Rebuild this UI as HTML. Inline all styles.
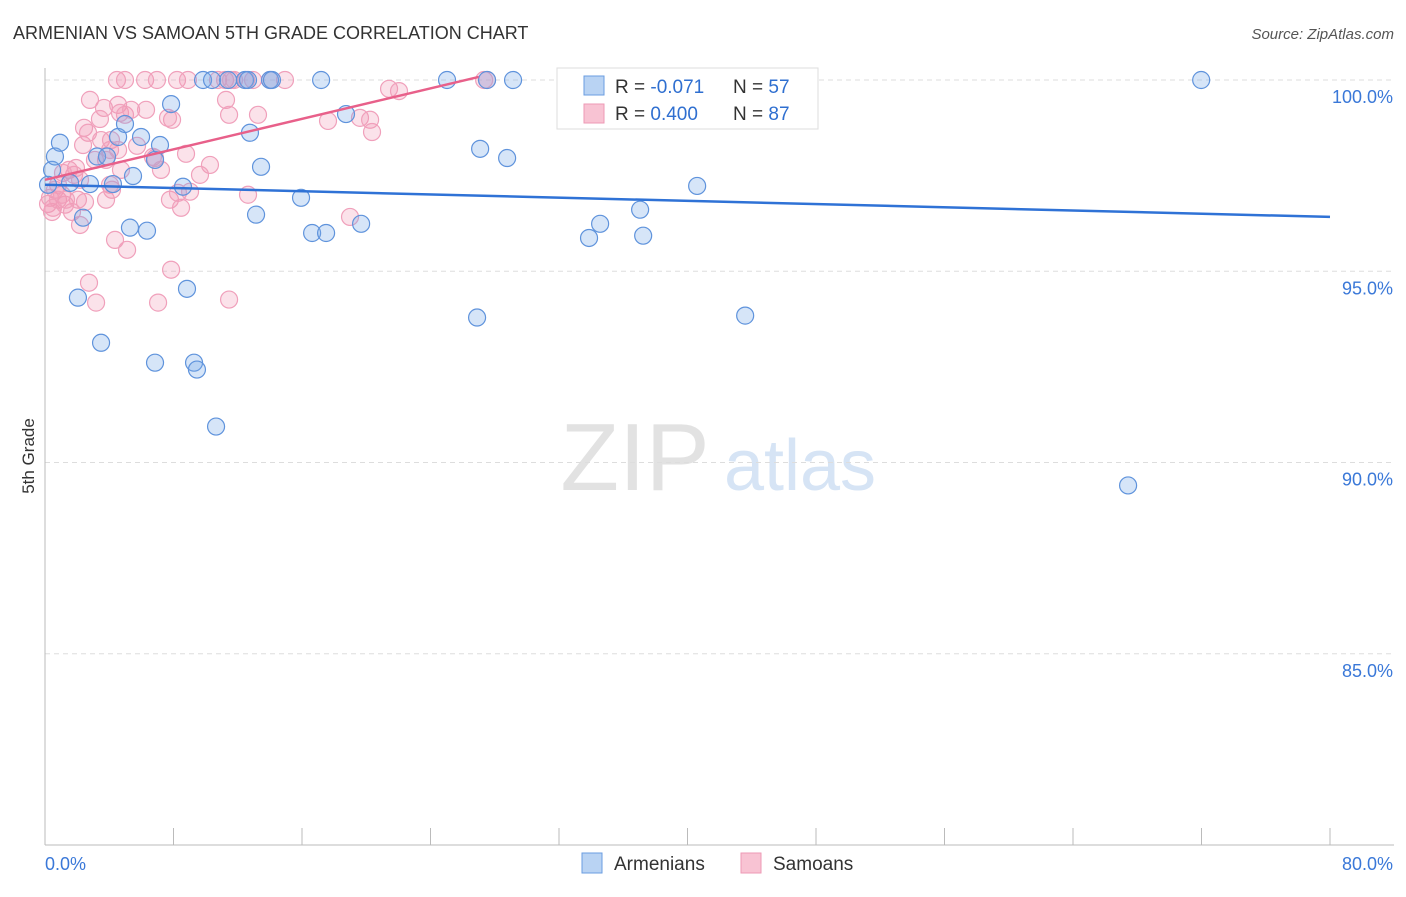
<!DOCTYPE html>
<html><head><meta charset="utf-8"><style>
body{margin:0;background:#fff;font-family:"Liberation Sans",sans-serif;}
svg text{font-family:"Liberation Sans",sans-serif;}
</style></head><body>
<svg id="chart" width="1406" height="892" viewBox="0 0 1406 892">
<text x="13" y="39" font-size="18" fill="#333">ARMENIAN VS SAMOAN 5TH GRADE CORRELATION CHART</text>
<text x="1394" y="39" font-size="15" fill="#555" text-anchor="end" font-style="italic">Source: ZipAtlas.com</text>
<text x="34" y="456" font-size="17" fill="#333" text-anchor="middle" transform="rotate(-90 34 456)">5th Grade</text>
<g>
<text x="635" y="490" font-size="96" fill="#e2e2e2" font-family="Liberation Serif" text-anchor="middle">ZIP</text>
<text x="800" y="490" font-size="72" fill="#d6e4f5" text-anchor="middle">atlas</text>
</g>
<g id="grid"></g><g id="axes"></g><g id="pts"></g><g id="lines"></g>
<g>
<rect x="557" y="68" width="261" height="61" fill="#fff" stroke="#ddd"/>
<rect x="584" y="76" width="20" height="19" fill="#b9d3f3" stroke="#6a9de0"/>
<rect x="584" y="104" width="20" height="19" fill="#f8c3d3" stroke="#ee9ab5"/>
<text x="615" y="93" font-size="19" fill="#333">R = <tspan fill="#2f6fd0">-0.071</tspan></text>
<text x="733" y="93" font-size="19" fill="#333">N = <tspan fill="#2f6fd0">57</tspan></text>
<text x="615" y="120" font-size="19" fill="#333">R = <tspan fill="#2f6fd0"> 0.400</tspan></text>
<text x="733" y="120" font-size="19" fill="#333">N = <tspan fill="#2f6fd0">87</tspan></text>
</g>
<g>
<rect x="582" y="853" width="20" height="20" fill="#b9d3f3" stroke="#6a9de0"/>
<text x="614" y="870" font-size="19" fill="#333">Armenians</text>
<rect x="741" y="853" width="20" height="20" fill="#f8c3d3" stroke="#ee9ab5"/>
<text x="773" y="870" font-size="19" fill="#333">Samoans</text>
</g>
</svg>
<script>
const yTicks=[85,90,95,100];
const yTickLabels=["85.0%","90.0%","95.0%","100.0%"];
const xTickLabels=["0.0%","80.0%"];
const blueX=[0.44,0.62,0.93,0.19,1.56,2.05,2.37,2.8,3.24,3.49,3.86,4.23,4.55,4.98,5.29,5.48,5.98,6.35,6.85,6.85,7.16,7.85,8.59,8.84,9.28,9.46,9.84,10.4,10.65,11.4,12.45,12.64,12.76,13.14,13.45,14.01,14.13,15.94,16.63,17.19,17.5,18.74,19.68,25.03,26.9,27.09,27.52,28.77,29.14,32.75,33.87,34.56,37.05,37.24,40.6,43.59,67.43,71.98];
const blueY=[97.65,98.0,98.36,97.26,97.31,94.31,96.4,97.28,98.0,93.13,98.0,97.28,98.51,98.85,96.14,97.49,98.51,96.06,92.61,97.91,98.3,99.37,97.21,94.54,92.61,92.43,100,100,90.94,100,100,100,98.62,96.48,97.73,100,100,96.92,96.0,100,96.0,99.11,96.24,100,93.79,98.2,100,97.96,100,100,95.87,96.24,96.61,95.93,97.23,93.84,89.4,100];
const pinkX=[4.48,4.98,6.23,6.97,8.22,8.9,10.77,11.21,11.58,11.77,12.52,12.95,14.01,14.94,27.34,27.52,2.8,3.67,4.55,4.67,4.98,5.36,6.29,7.91,7.66,11.27,11.46,13.26,2.43,2.68,3.42,3.49,4.11,4.05,3.8,4.55,5.73,6.72,6.85,7.22,8.78,10.27,17.62,19.61,20.24,20.36,21.42,22.04,1.49,1.81,1.93,1.12,0.81,0.62,0.31,0.19,0.44,0.81,1.25,1.68,2.05,2.18,2.49,4.05,4.17,3.8,4.36,5.11,7.78,8.28,8.47,9.03,9.65,12.64,18.99,7.85,2.74,3.18,7.04,11.46,4.73,3.11,1.06,1.31,0.5,2.18,2.37];
const pinkY=[100,100,100,100,100,100,100,100,100,100,100,100,100,100,100,100,99.48,99.27,99.35,99.14,99.09,99.22,99.22,98.96,99.01,99.48,99.09,99.09,98.75,98.62,98.98,98.43,98.43,98.17,97.91,98.17,98.28,97.99,97.96,97.65,98.07,97.78,98.93,99.01,98.96,98.64,99.77,99.71,97.65,97.52,97.7,97.57,97.26,97.13,96.92,96.76,96.55,96.87,96.74,96.55,96.87,96.21,96.81,97.26,97.13,96.87,95.82,95.56,96.87,97.05,96.66,97.08,97.52,97.0,96.42,95.04,94.7,94.18,94.18,94.26,97.65,97.91,97.0,96.87,96.66,97.39,98.3];
const blueTrend=[[0,97.26],[80,96.42]];
const pinkTrend=[[0,97.39],[27,100.08]];
const NS="http://www.w3.org/2000/svg";
const X=v=>45+v/80*1285, Y=v=>845-(v-80)/20*765;
function mk(t,a,p){const e=document.createElementNS(NS,t);for(const k in a)e.setAttribute(k,a[k]);p.appendChild(e);return e;}
const grid=document.getElementById('grid'),axes=document.getElementById('axes');
yTicks.forEach((t,i)=>{
 const l=mk('line',{x1:45,x2:1394,y1:Y(t),y2:Y(t),stroke:'#ddd','stroke-dasharray':'5,4'},grid);
 
 
 const tx=mk('text',{x:1393,y:Y(t)+23,'font-size':18,fill:'#3a78d8','text-anchor':'end'},axes);tx.textContent=yTickLabels[i];
 
 
});
const ax=mk('line',{x1:45,x2:1394,y1:845,y2:845,stroke:'#bbb'},axes);


const ay=mk('line',{x1:45,x2:45,y1:68,y2:845,stroke:'#bbb'},axes);


for(let i=0;i<=10;i++){const t=mk('line',{x1:X(i*8),x2:X(i*8),y1:828,y2:845,stroke:'#bbb'},axes);
 
 }
[[0,'start',45],[80,'end',1393]].forEach((d,i)=>{const t=mk('text',{x:d[2],y:870,'font-size':18,fill:'#3a78d8','text-anchor':d[1]},axes);t.textContent=xTickLabels[i];
 
 });
const pts=document.getElementById('pts');
pinkX.forEach((x,i)=>{const c=mk('circle',{cx:X(x),cy:Y(pinkY[i]),r:8.5,fill:'rgba(242,150,180,0.28)',stroke:'#f0a0bb','stroke-width':1.2},pts);
 
 });
blueX.forEach((x,i)=>{const c=mk('circle',{cx:X(x),cy:Y(blueY[i]),r:8.5,fill:'rgba(120,170,232,0.3)',stroke:'#5f93dc','stroke-width':1.2},pts);
 
 });
const lines=document.getElementById('lines');
const bl=mk('line',{x1:X(blueTrend[0][0]),y1:Y(blueTrend[0][1]),x2:X(blueTrend[1][0]),y2:Y(blueTrend[1][1]),stroke:'#2f72d6','stroke-width':2.5},lines);


const pl=mk('line',{x1:X(pinkTrend[0][0]),y1:Y(pinkTrend[0][1]),x2:X(pinkTrend[1][0]),y2:Y(pinkTrend[1][1]),stroke:'#e8608a','stroke-width':2.5},lines);


</script>
</body></html>
